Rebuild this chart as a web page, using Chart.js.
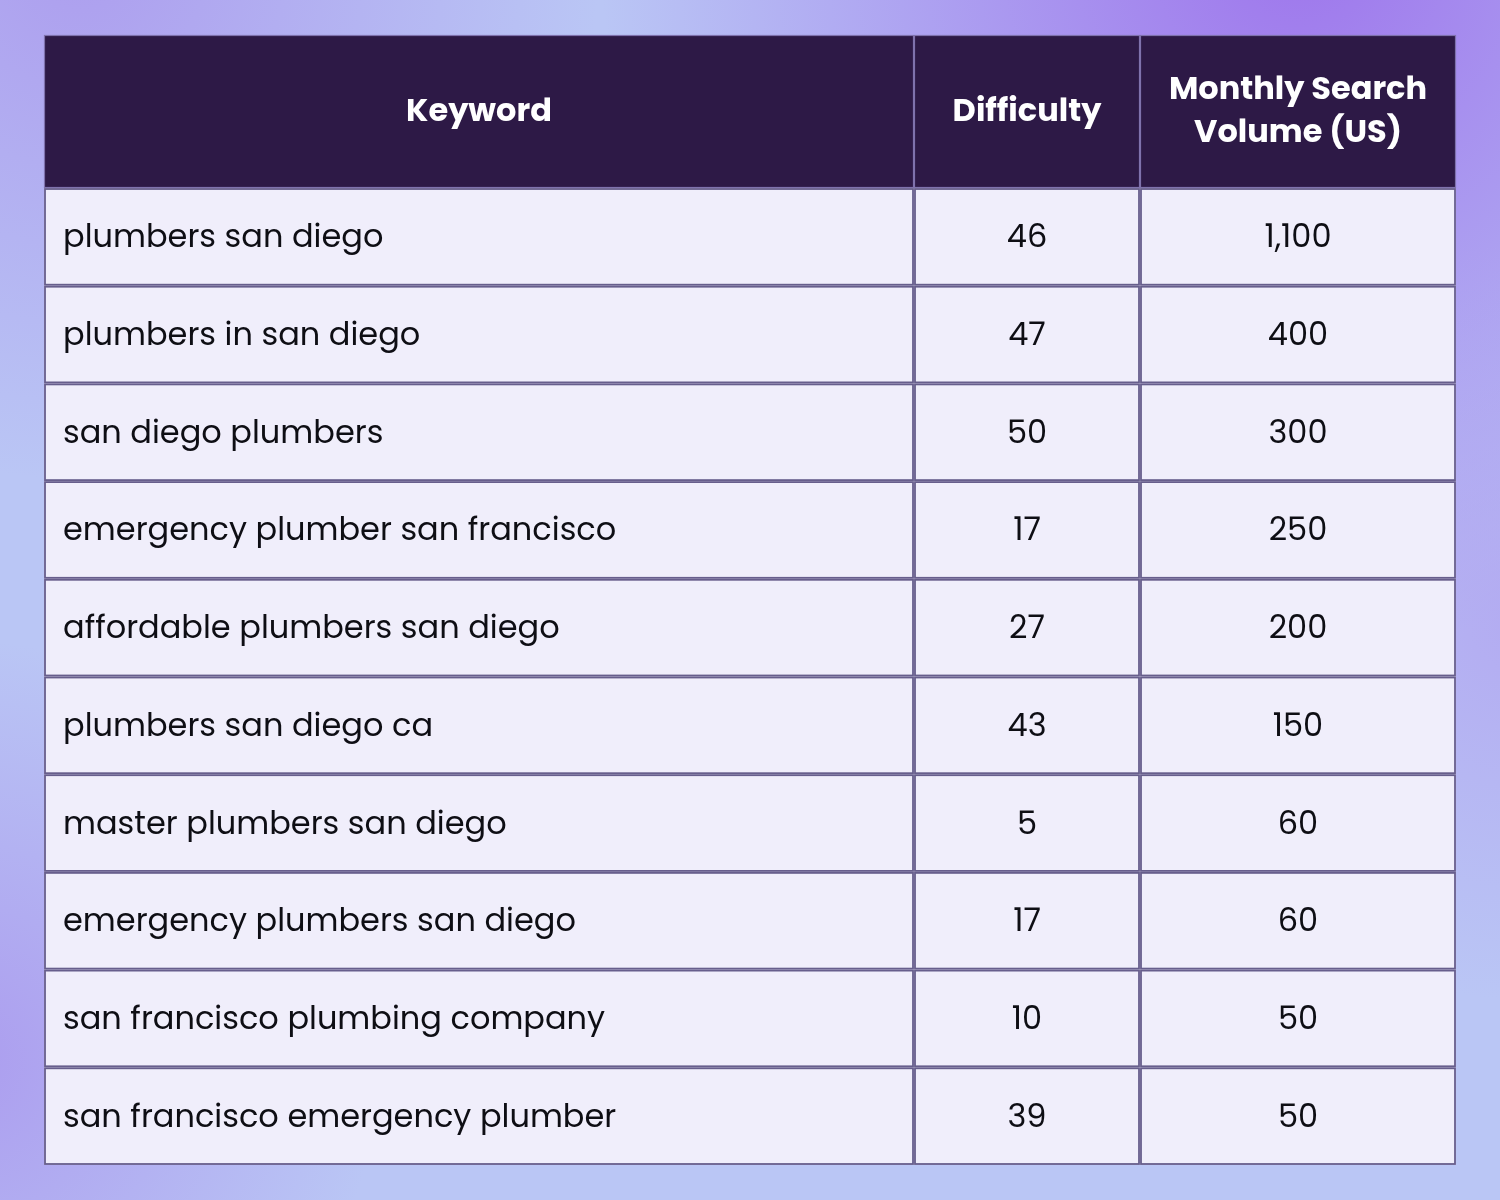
<!DOCTYPE html>
<html lang="en">
<head>
<meta charset="utf-8">
<title>Keyword difficulty table</title>
<script src="https://cdn.jsdelivr.net/npm/chart.js@4.4.1/dist/chart.umd.min.js"></script>
<style>
    html, body { margin: 0; padding: 0; }
    #wrap { width: 1500px; height: 1200px; position: relative; }
</style>
</head>
<body>
<div id="wrap"><canvas id="table-chart"></canvas></div>
<script>
// Données du tableau
const columnHeaders = ['Keyword', 'Difficulty', ['Monthly Search', 'Volume (US)']];
const keywords = [
    'plumbers san diego',
    'plumbers in san diego',
    'san diego plumbers',
    'emergency plumber san francisco',
    'affordable plumbers san diego',
    'plumbers san diego ca',
    'master plumbers san diego',
    'emergency plumbers san diego',
    'san francisco plumbing company',
    'san francisco emergency plumber'
];
const difficulty = [46, 47, 50, 17, 27, 43, 5, 17, 10, 39];
const searchVolume = [1100, 400, 300, 250, 200, 150, 60, 60, 50, 50];

// Mise en page (unités des échelles)
const columnEdges = [0, 870, 1096, 1412];
const headerUnits = 1.566;
const FONT = "'Poppins', 'Open Sans', sans-serif";

// Fond dégradé
const backgroundPlugin = {
    id: 'bg',
    beforeDraw(chart) {
        const { ctx, width, height } = chart;
        ctx.save();
        ctx.fillStyle = '#bac6f5';
        ctx.fillRect(0, 0, width, height);
        const blobs = [
            [1300, -50, 700, 'rgba(158,118,236,1)'],
            [80, -40, 520, 'rgba(172,156,238,0.95)'],
            [-40, 1060, 420, 'rgba(170,152,238,0.9)'],
            [1520, 620, 380, 'rgba(176,160,240,0.7)']
        ];
        blobs.forEach(([x, y, r, c]) => {
            const g = ctx.createRadialGradient(x, y, 0, x, y, r);
            g.addColorStop(0, c);
            g.addColorStop(1, c.replace(/[\d.]+\)$/, '0)'));
            ctx.fillStyle = g;
            ctx.fillRect(0, 0, width, height);
        });
        ctx.restore();
    }
};

// Dessin du tableau à partir des échelles
const tablePlugin = {
    id: 'table',
    afterDraw(chart) {
        const { ctx } = chart;
        const xs = chart.scales.x;
        const ys = chart.scales.y;
        const px = v => xs.getPixelForValue(v);
        const py = v => ys.getPixelForValue(v);

        ctx.save();
        // fond du tableau (visible entre les cellules)
        ctx.fillStyle = '#d9d5ee';
        ctx.fillRect(px(0), py(headerUnits), px(columnEdges[3]) - px(0), py(headerUnits + keywords.length) - py(headerUnits));
        ctx.fillStyle = '#2d1946';
        ctx.fillRect(px(0), py(0), px(columnEdges[3]) - px(0), py(headerUnits) - py(0));

        // en-tête
        for (let c = 0; c < 3; c++) {
            const x0 = px(columnEdges[c]), x1 = px(columnEdges[c + 1]);
            const y0 = py(0), y1 = py(headerUnits);
            ctx.strokeStyle = '#7f72ad';
            ctx.lineWidth = 1.2;
            ctx.strokeRect(x0 + 0.5, y0 + 0.5, x1 - x0 - 1, y1 - y0 - 1);
            ctx.fillStyle = '#ffffff';
            ctx.font = "bold 32px " + FONT;
            ctx.textAlign = 'center';
            ctx.textBaseline = 'middle';
            const lines = Array.isArray(columnHeaders[c]) ? columnHeaders[c] : [columnHeaders[c]];
            const lh = 43;
            const cy = (y0 + y1) / 2 + 1.5;
            lines.forEach((t, i) => {
                ctx.fillText(t, (x0 + x1) / 2, cy + (i - (lines.length - 1) / 2) * lh);
            });
        }

        // lignes de données
        keywords.forEach((kw, r) => {
            const y0 = py(headerUnits + r), y1 = py(headerUnits + r + 1);
            const values = [kw, String(difficulty[r]), searchVolume[r].toLocaleString('en-US')];
            for (let c = 0; c < 3; c++) {
                const x0 = px(columnEdges[c]), x1 = px(columnEdges[c + 1]);
                ctx.fillStyle = '#f0eefb';
                ctx.fillRect(x0 + 1, y0 + 1, x1 - x0 - 2, y1 - y0 - 2);
                ctx.strokeStyle = '#675e8c';
                ctx.lineWidth = 1.8;
                ctx.strokeRect(x0 + 1, y0 + 1, x1 - x0 - 2, y1 - y0 - 2);

                ctx.fillStyle = '#0e0e14';
                ctx.font = "32px " + FONT;
                ctx.textBaseline = 'middle';
                const cy = (y0 + y1) / 2 + 2.5;
                if (c === 0) {
                    ctx.textAlign = 'left';
                    ctx.fillText(values[c], x0 + 19, cy);
                } else {
                    ctx.textAlign = 'center';
                    ctx.fillText(values[c], (x0 + x1) / 2, cy);
                }
            }
        });
        ctx.restore();
    }
};

document.addEventListener('DOMContentLoaded', () => {
    const ctx = document.getElementById('table-chart').getContext('2d');
    new Chart(ctx, {
        type: 'scatter',
        data: { datasets: [] },
        options: {
            responsive: true,
            maintainAspectRatio: false,
            animation: false,
            layout: { padding: { left: 44, right: 44, top: 35, bottom: 35 } },
            plugins: {
                legend: { display: false },
                tooltip: { enabled: false }
            },
            scales: {
                x: { type: 'linear', min: 0, max: columnEdges[3], display: false },
                y: { type: 'linear', min: 0, max: headerUnits + keywords.length, reverse: true, display: false }
            }
        },
        plugins: [backgroundPlugin, tablePlugin]
    });
});
</script>
</body>
</html>
